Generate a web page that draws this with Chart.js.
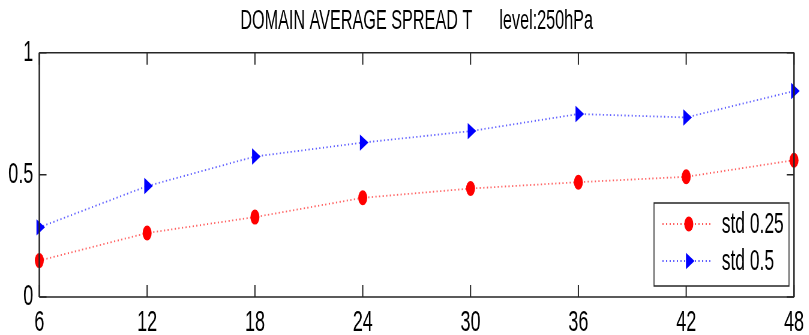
<!DOCTYPE html>
<html>
<head>
<meta charset="utf-8">
<script src="https://cdn.jsdelivr.net/npm/chart.js@4/dist/chart.umd.min.js"></script>
<style>
  html, body { margin: 0; padding: 0; background: #fff; overflow: hidden; }
  /* the reference is squashed sideways, so draw wide and squeeze */
  #wrap { width: 1348px; height: 335px; transform: scaleX(0.6); transform-origin: 0 0; }
</style>
</head>
<body>
<div id="wrap"><canvas id="chart" width="1348" height="335"></canvas></div>
<script>
let titleText = 'DOMAIN AVERAGE SPREAD T      level:250hPa';
let hours = ['6', '12', '18', '24', '30', '36', '42', '48'];
let std025 = [0.149, 0.262, 0.327, 0.406, 0.444, 0.470, 0.492, 0.560];
let std05 = [0.285, 0.454, 0.575, 0.632, 0.679, 0.749, 0.735, 0.843];
let seriesNames = ['std 0.25', 'std 0.5'];
let yTicks = [0, 0.5, 1];
let yTickLabels = ['0', '0.5', '1'];

let fontFamily = '"Liberation Sans", Arial, sans-serif';

function drawMarker(ctx, style, x, y, r) {
    ctx.beginPath();
    if (style == 'triangle') {
        // pointing right
        ctx.moveTo(x + r, y);
        ctx.lineTo(x - r / 2, y - r * 0.866);
        ctx.lineTo(x - r / 2, y + r * 0.866);
        ctx.closePath();
    } else {
        ctx.arc(x, y, r, 0, Math.PI * 2);
    }
    ctx.fill();
}

let boxPlugin = {
    id: 'boxPlugin',
    afterDraw(chart) {
        let ctx = chart.ctx;
        let a = chart.chartArea;
        let xs = chart.scales.x;
        let ys = chart.scales.y;
        ctx.save();
        ctx.strokeStyle = '#262626';

        // inward ticks
        ctx.lineWidth = 2;
        for (let i = 0; i < hours.length; i++) {
            let px = xs.getPixelForTick(i);
            ctx.beginPath();
            ctx.moveTo(px, a.bottom); ctx.lineTo(px, a.bottom - 12);
            ctx.moveTo(px, a.top); ctx.lineTo(px, a.top + 12);
            ctx.stroke();
        }
        ctx.lineWidth = 1.5;
        for (let v of yTicks) {
            let py = ys.getPixelForValue(v);
            ctx.beginPath();
            ctx.moveTo(a.left, py); ctx.lineTo(a.left + 12, py);
            ctx.moveTo(a.right, py); ctx.lineTo(a.right - 12, py);
            ctx.stroke();
        }

        // box
        ctx.lineWidth = 1.5;
        ctx.beginPath();
        ctx.moveTo(a.left, a.top); ctx.lineTo(a.right, a.top);
        ctx.moveTo(a.left, a.bottom); ctx.lineTo(a.right, a.bottom);
        ctx.stroke();
        ctx.lineWidth = 2.5;
        ctx.beginPath();
        ctx.moveTo(a.left, a.top); ctx.lineTo(a.left, a.bottom);
        ctx.moveTo(a.right, a.top); ctx.lineTo(a.right, a.bottom);
        ctx.stroke();

        // legend
        let lx = 1090, ly = 203, lw = 225, lh = 83;
        ctx.fillStyle = '#fff';
        ctx.fillRect(lx, ly, lw, lh);
        ctx.lineWidth = 1.5;
        ctx.strokeRect(lx, ly, lw, lh);
        let rows = [224, 261];
        chart.data.datasets.forEach((ds, i) => {
            let y = rows[i];
            ctx.strokeStyle = ds.borderColor;
            ctx.lineWidth = ds.borderWidth;
            ctx.setLineDash(ds.borderDash);
            ctx.beginPath();
            ctx.moveTo(1104, y); ctx.lineTo(1188, y);
            ctx.stroke();
            ctx.setLineDash([]);
            ctx.fillStyle = ds.pointBackgroundColor;
            drawMarker(ctx, ds.pointStyle, 1148, y, ds.pointRadius);
            ctx.fillStyle = '#000';
            ctx.font = '29px ' + fontFamily;
            ctx.textBaseline = 'middle';
            ctx.textAlign = 'left';
            ctx.fillText(ds.label, 1203, y + 1);
        });
        ctx.restore();
    }
};

new Chart(document.getElementById('chart'), {
    type: 'line',
    data: {
        labels: hours,
        datasets: [{
            label: seriesNames[0],
            data: std025,
            borderColor: 'rgba(255, 40, 40, 0.75)',
            borderWidth: 1.8,
            borderDash: [2, 4],
            pointStyle: 'circle',
            pointRadius: 7.5,
            pointBackgroundColor: '#ff0000',
            pointBorderColor: '#ff0000',
            pointBorderWidth: 0,
            clip: false
        }, {
            label: seriesNames[1],
            data: std05,
            borderColor: 'rgba(40, 40, 255, 0.75)',
            borderWidth: 1.8,
            borderDash: [2, 4],
            pointStyle: 'triangle',
            pointRotation: 90,
            pointRadius: 9.5,
            pointBackgroundColor: '#0000ff',
            pointBorderColor: '#0000ff',
            pointBorderWidth: 0,
            clip: false
        }]
    },
    options: {
        responsive: false,
        animation: false,
        devicePixelRatio: 1,
        layout: { padding: { left: 0, right: 19, top: 0, bottom: 0 } },
        plugins: {
            legend: { display: false },
            tooltip: { enabled: false },
            title: {
                display: true,
                fullSize: false,
                text: titleText,
                color: '#000',
                font: { family: fontFamily, size: 27, weight: 'normal', lineHeight: 1.2 },
                padding: { top: 5, bottom: 15.3 }
            }
        },
        scales: {
            x: {
                type: 'category',
                offset: false,
                grid: { display: false, drawTicks: false },
                border: { display: false },
                ticks: { color: '#000', font: { family: fontFamily, size: 30 }, padding: 8, maxRotation: 0, autoSkip: false },
                afterFit(scale) { scale.height = 38; }
            },
            y: {
                min: 0,
                max: 1,
                grid: { display: false, drawTicks: false },
                border: { display: false },
                afterBuildTicks(scale) { scale.ticks = yTicks.map(v => ({ value: v })); },
                ticks: {
                    color: '#000',
                    font: { family: fontFamily, size: 30 },
                    padding: 10,
                    callback: (v) => yTickLabels[yTicks.indexOf(v)]
                },
                afterFit(scale) { scale.width = 65.5; }
            }
        }
    },
    plugins: [boxPlugin]
});
</script>
</body>
</html>
